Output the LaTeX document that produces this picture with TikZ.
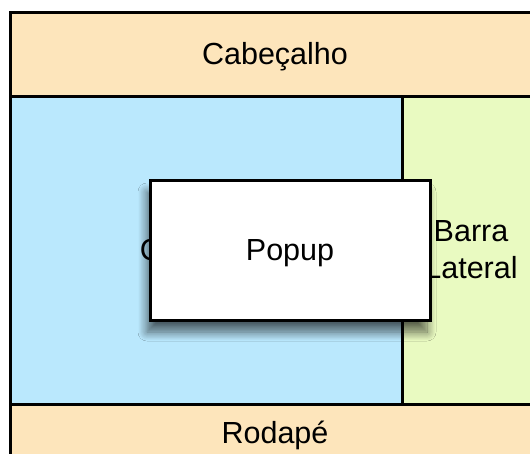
\documentclass[tikz,border=0pt]{standalone}
\usepackage{fontspec}
\setmainfont{Liberation Sans}
\usepackage{xcolor}
\usetikzlibrary{positioning}
\usetikzlibrary{shadows.blur}
\definecolor{cabecor}{RGB}{253,229,187}
\definecolor{contcor}{RGB}{186,232,253}
\definecolor{barracor}{RGB}{233,250,193}
\tikzset{
  regiao/.style={draw=black, line width=3pt, rectangle, inner sep=0pt, outer sep=0pt, anchor=north west, font=\fontsize{30.5}{37}\selectfont, align=center},
  umalinha/.style={text height=21.5pt, text depth=0pt},
}

\begin{document}
\begin{tikzpicture}[x=1pt, y=-1pt]
			    		\useasboundingbox (0, 0) rectangle (530, 453);
			    		\clip (0, 0) rectangle (530, 453);
			    		\node[regiao, umalinha, fill=cabecor, minimum width=530pt, minimum height=84pt] (cabecalho) at (10, 12) {Cabeçalho};
			    		\node[regiao, umalinha, fill=contcor, minimum width=392pt, minimum height=308pt] (conteudo) at (10, 96) {Conteúdo};
			    		\node[regiao, fill=barracor, minimum width=138pt, minimum height=308pt] (barra) at (402, 96) {\raisebox{-3pt}{Barra}\\\raisebox{-3pt}{Lateral}};
			    		\node[regiao, umalinha, fill=cabecor, minimum width=530pt, minimum height=58pt] (rodape) at (10, 404) {Rodapé};
			    		\node[regiao, umalinha, fill=white, minimum width=280pt, minimum height=140pt,
			    		      blur shadow={shadow xshift=-3pt, shadow yshift=-12pt, shadow blur radius=9pt, shadow blur steps=12, shadow opacity=60}] (popup) at (150, 180) {Popup};
			    	\end{tikzpicture}
\end{document}
